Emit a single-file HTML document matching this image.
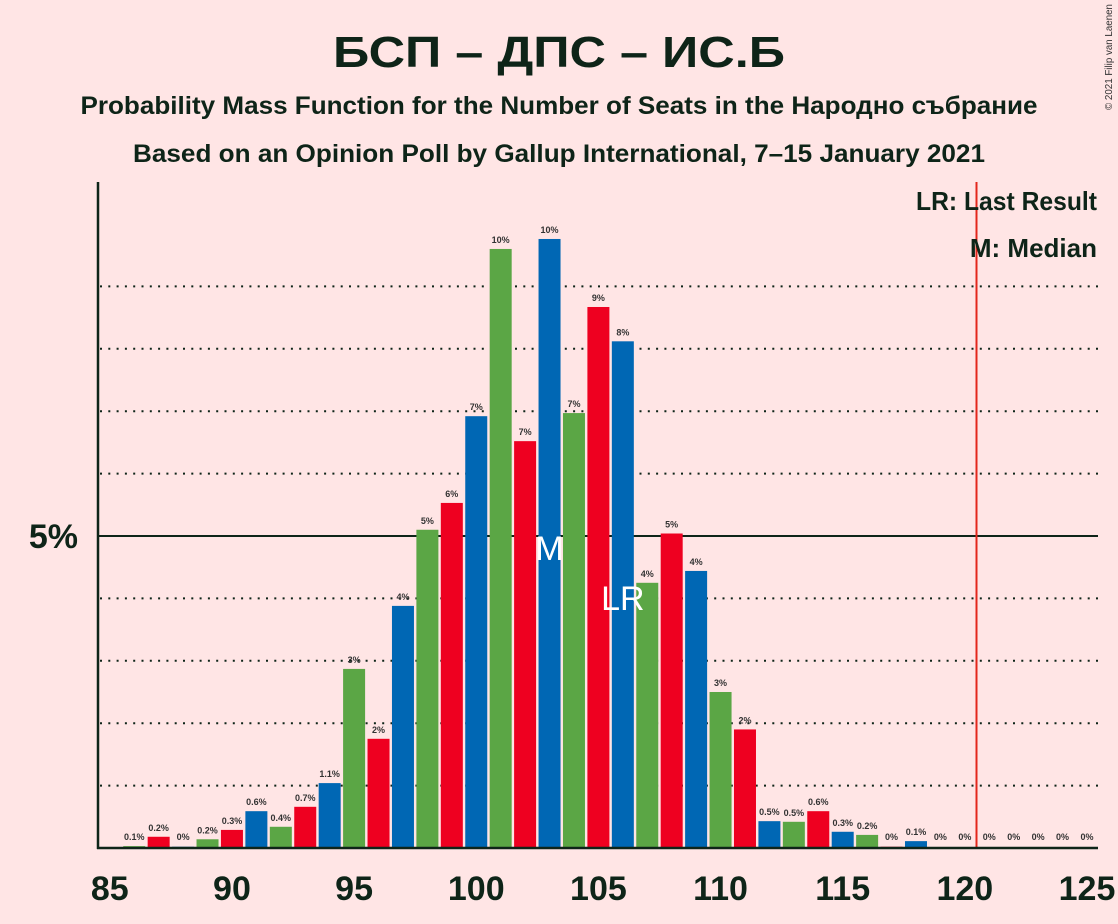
<!DOCTYPE html>
<html><head><meta charset="utf-8"><style>
body{margin:0;background:#FFE5E5;}
svg{display:block;font-family:"Liberation Sans",sans-serif;}
</style></head><body>
<svg id="chart" width="1118" height="924" viewBox="0 0 1118 924">
<rect x="0" y="0" width="1118" height="924" fill="#FFE5E5"/>
<text x="559" y="67" text-anchor="middle" font-size="44" font-weight="bold" fill="#0e2418" textLength="452" lengthAdjust="spacingAndGlyphs">БСП – ДПС – ИС.Б</text>
<text x="559" y="114" text-anchor="middle" font-size="25" font-weight="bold" fill="#0e2418" textLength="957" lengthAdjust="spacingAndGlyphs">Probability Mass Function for the Number of Seats in the Народно събрание</text>
<text x="559" y="162" text-anchor="middle" font-size="25" font-weight="bold" fill="#0e2418" textLength="852" lengthAdjust="spacingAndGlyphs">Based on an Opinion Poll by Gallup International, 7–15 January 2021</text>
<text x="1112" y="57" text-anchor="middle" font-size="10" fill="#333" textLength="106" lengthAdjust="spacingAndGlyphs" transform="rotate(-90 1112 57)">© 2021 Filip van Laenen</text>
<g id="grid"></g>
<g id="bars"></g>
<g id="labels"></g>
<line x1="976.5" y1="182" x2="976.5" y2="848" stroke="#e3261c" stroke-width="2"/>
<line x1="98" y1="182" x2="98" y2="849" stroke="#0e2418" stroke-width="2.5"/>
<line x1="97" y1="848" x2="1098" y2="848" stroke="#0e2418" stroke-width="2.5"/>
<text x="1097" y="210" text-anchor="end" font-size="26" font-weight="bold" fill="#0e2418" textLength="181" lengthAdjust="spacingAndGlyphs">LR: Last Result</text>
<text x="1097" y="257" text-anchor="end" font-size="26" font-weight="bold" fill="#0e2418">M: Median</text>
<g id="xticks"></g>
</svg>
<script>
const seats=[86,87,88,89,90,91,92,93,94,95,96,97,98,99,100,101,102,103,104,105,106,107,108,109,110,111,112,113,114,115,116,117,118,119,120,121,122,123,124,125];
const probs=[0.03,0.18,0.02,0.14,0.29,0.59,0.34,0.66,1.04,2.87,1.75,3.88,5.1,5.53,6.92,9.6,6.52,9.76,6.97,8.67,8.12,4.25,5.04,4.44,2.5,1.9,0.43,0.42,0.59,0.26,0.21,0.02,0.11,0,0,0.01,0,0,0,0];
const valueLabels=["0.1%","0.2%","0%","0.2%","0.3%","0.6%","0.4%","0.7%","1.1%","3%","2%","4%","5%","6%","7%","10%","7%","10%","7%","9%","8%","4%","5%","4%","3%","2%","0.5%","0.5%","0.6%","0.3%","0.2%","0%","0.1%","0%","0%","0%","0%","0%","0%","0%"];
const xTicks=[85,90,95,100,105,110,115,120,125];
const gridVals=[1,2,3,4,6,7,8,9];
const medianSeat=103, lastResultSeat=106;
const colors=["#5BA645","#EE0020","#0067B4"];
const NS="http://www.w3.org/2000/svg";
const x=s=>109.8+(s-85)*24.43;
const y=v=>848-v*62.4;
function mk(t,a,p){const e=document.createElementNS(NS,t);for(const k in a)e.setAttribute(k,a[k]);p.appendChild(e);return e;}
const grid=document.getElementById('grid'),bars=document.getElementById('bars'),labels=document.getElementById('labels'),xt=document.getElementById('xticks');
gridVals.forEach(v=>{const l=mk('line',{x1:100,x2:1098,y1:y(v),y2:y(v),stroke:'#0e2418','stroke-width':2,'stroke-dasharray':'2,6.3'},grid);

});
const fl=mk('line',{x1:98,x2:1098,y1:y(5),y2:y(5),stroke:'#0e2418','stroke-width':2},grid);


const yl=mk('text',{x:78,y:y(5)+12,'text-anchor':'end','font-size':34,'font-weight':'bold',fill:'#0e2418'},grid);yl.textContent='5%';


seats.forEach((s,i)=>{const v=probs[i];const c=colors[(s-86)%3];
const r=mk('rect',{x:x(s)-11,y:y(v),width:22,height:848-y(v),fill:c},bars);


const t=mk('text',{x:x(s),y:Math.min(y(v),846)-6,'text-anchor':'middle','font-size':9,'font-weight':'bold',fill:'#333'},labels);t.textContent=valueLabels[i];

});
const m=mk('text',{x:x(medianSeat),y:560,'text-anchor':'middle','font-size':34,fill:'#fff'},labels);m.textContent='M';


const lr=mk('text',{x:x(lastResultSeat),y:610,'text-anchor':'middle','font-size':34,fill:'#fff'},labels);lr.textContent='LR';


xTicks.forEach(s=>{const t=mk('text',{x:x(s),y:900,'text-anchor':'middle','font-size':34,'font-weight':'bold',fill:'#0e2418'},xt);t.textContent=s;

});
</script>
</body></html>
